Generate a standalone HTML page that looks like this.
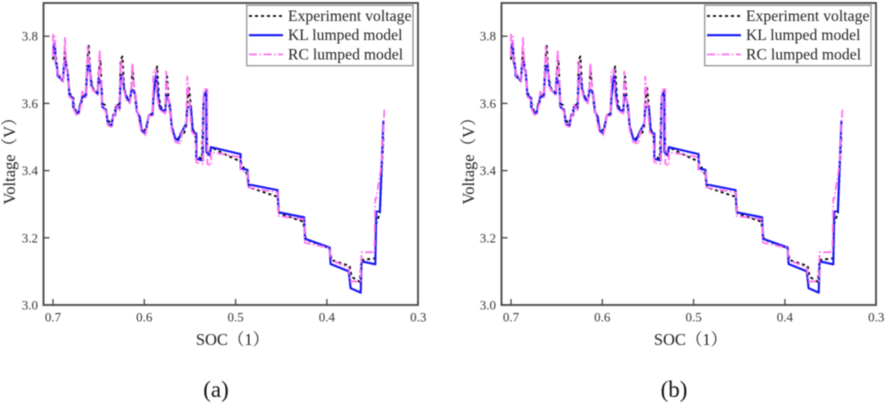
<!DOCTYPE html>
<html>
<head>
<meta charset="utf-8">
<title>Voltage vs SOC</title>
<style>
html,body{margin:0;padding:0;background:#fff;width:886px;height:404px;overflow:hidden}
svg{display:block;filter:blur(0.5px)}
text{font-family:"Liberation Serif","Noto Serif CJK SC",serif;fill:#333}
</style>
</head>
<body>
<svg id="chart" xmlns="http://www.w3.org/2000/svg" width="886" height="404" viewBox="0 0 886 404"></svg>
<script>
const socTicks = [0.7, 0.6, 0.5, 0.4, 0.3];
const socTickLabels = ['0.7', '0.6', '0.5', '0.4', '0.3'];
const voltageTicks = [3.0, 3.2, 3.4, 3.6, 3.8];
const voltageTickLabels = ['3.0', '3.2', '3.4', '3.6', '3.8'];
const panelNames = ['a', 'b'];

const klSoc = [.700,.699,.698,.697,.695,.695,.689,.688,.686,.685,.684,.682,.678,.678,.674,.672,.670,.669,.668,.664,.663,.662,.660,.658,.656,.651,.650,.647,.646,.642,.640,.636,.634,.632,.631,.627,.626,.624,.622,.620,.616,.614,.612,.610,.608,.605,.603,.599,.597,.595,.591,.590,.587,.585,.583,.577,.576,.574,.572,.570,.566,.563,.559,.554,.553,.549,.547,.543,.543,.536,.535,.532,.532,.528,.527,.4945,.4945,.487,.486,.454,.453,.425,.424,.397,.396,.376,.374,.363,.362,.347,.346,.342,.340,.338];
const klVoltage = [3.75,3.775,3.78,3.725,3.70,3.682,3.667,3.72,3.725,3.70,3.695,3.625,3.615,3.59,3.57,3.57,3.60,3.60,3.62,3.62,3.68,3.71,3.715,3.655,3.64,3.628,3.675,3.655,3.59,3.58,3.54,3.532,3.565,3.565,3.59,3.585,3.675,3.685,3.64,3.62,3.605,3.64,3.64,3.625,3.575,3.56,3.52,3.51,3.535,3.565,3.565,3.62,3.685,3.625,3.585,3.575,3.625,3.615,3.595,3.53,3.495,3.49,3.515,3.54,3.59,3.588,3.515,3.51,3.435,3.43,3.62,3.635,3.455,3.445,3.47,3.449,3.407,3.402,3.359,3.342,3.276,3.261,3.197,3.171,3.122,3.100,3.050,3.037,3.130,3.121,3.278,3.280,3.42,3.55];

const expSoc = [.700,.699,.698,.696,.695,.694,.689,.688,.687,.685,.684,.682,.678,.677,.674,.672,.670,.668,.664,.663,.661,.659,.657,.655,.651,.650,.648,.646,.643,.640,.636,.634,.631,.627,.626,.624,.622,.620,.616,.614,.613,.611,.609,.606,.603,.599,.597,.595,.591,.589,.586,.584,.582,.577,.576,.575,.573,.570,.566,.563,.560,.557,.554,.553,.551,.549,.547,.544,.543,.537,.535,.532,.531,.528,.527,.510,.4945,.488,.485,.454,.452,.426,.423,.397,.395,.375,.373,.364,.362,.347,.346,.342,.340,.338];
const expVoltage = [3.73,3.76,3.77,3.72,3.69,3.685,3.665,3.715,3.76,3.705,3.695,3.63,3.62,3.595,3.57,3.575,3.60,3.62,3.625,3.70,3.775,3.69,3.65,3.64,3.635,3.69,3.73,3.60,3.595,3.55,3.54,3.565,3.59,3.60,3.73,3.74,3.645,3.625,3.605,3.65,3.71,3.64,3.59,3.56,3.525,3.52,3.54,3.565,3.57,3.65,3.71,3.62,3.59,3.575,3.66,3.68,3.60,3.535,3.495,3.495,3.51,3.505,3.535,3.60,3.65,3.59,3.525,3.505,3.445,3.435,3.62,3.64,3.46,3.445,3.47,3.446,3.427,3.392,3.35,3.322,3.273,3.248,3.195,3.169,3.134,3.116,3.084,3.069,3.134,3.139,3.243,3.273,3.40,3.50];

const rcSoc = [.700,.700,.698,.697,.695,.694,.689,.688,.687,.685,.684,.682,.678,.677,.674,.672,.670,.669,.668,.664,.663,.662,.660,.658,.656,.651,.650,.649,.647,.646,.642,.640,.636,.634,.632,.631,.627,.626,.624,.623,.620,.616,.614,.613,.611,.609,.606,.603,.599,.597,.595,.591,.590,.587,.586,.583,.577,.576,.574,.572,.570,.566,.560,.559,.554,.553,.550,.548,.544,.543,.536,.535,.531,.531,.527,.527,.4945,.4945,.487,.486,.454,.453,.425,.424,.397,.396,.376,.374,.363,.362,.348,.347,.346,.340,.337];
const rcVoltage = [3.74,3.805,3.805,3.73,3.70,3.68,3.665,3.72,3.795,3.70,3.69,3.62,3.61,3.58,3.565,3.565,3.59,3.60,3.635,3.62,3.69,3.77,3.72,3.65,3.64,3.625,3.68,3.76,3.66,3.59,3.575,3.535,3.53,3.56,3.57,3.595,3.58,3.73,3.70,3.65,3.61,3.60,3.65,3.72,3.64,3.60,3.55,3.515,3.505,3.53,3.565,3.56,3.70,3.70,3.62,3.58,3.57,3.695,3.62,3.59,3.52,3.485,3.48,3.51,3.535,3.68,3.59,3.515,3.505,3.425,3.42,3.642,3.642,3.42,3.415,3.455,3.44,3.40,3.395,3.35,3.335,3.265,3.255,3.185,3.17,3.135,3.11,3.07,3.07,3.157,3.157,3.317,3.317,3.42,3.585];

const legendLabels = ['Experiment voltage', 'KL lumped model', 'RC lumped model'];

const NS = 'http://www.w3.org/2000/svg';
const root = document.getElementById('chart');
const BLUE = '#1414f5', PINK = '#ff70f0', BLACK = '#000';

function make(parent, tag, attrs, txt) {
  const el = document.createElementNS(NS, tag);
  for (const k in attrs) el.setAttribute(k, attrs[k]);
  if (txt !== undefined) el.textContent = txt;
  parent.appendChild(el);
  return el;
}

function drawPanel(dx, name) {
  const left = 43.5 + dx, right = 418 + dx, top = 3, bottom = 305;
  const xScale = s => 53 + dx + (0.7 - s) * 913;
  const yScale = v => 305 - (v - 3) * 336;

  const g = make(root, 'g', {});
  
  

  const stylesBySeries = [
    ['experiment-voltage-line', expSoc, expVoltage, BLACK, 1.8, '3 3'],
    ['kl-lumped-model-line', klSoc, klVoltage, BLUE, 2.1, ''],
    ['rc-lumped-model-line', rcSoc, rcVoltage, PINK, 1.8, '8 2.5 1.5 2.5']
  ];
  stylesBySeries.forEach(s => {
    const pts = s[1].map((x, j) => xScale(x).toFixed(1) + ',' + yScale(s[2][j]).toFixed(1)).join(' ');
    const line = make(g, 'polyline', {points: pts, fill: 'none', stroke: s[3], 'stroke-width': s[4], 'stroke-linejoin': 'round'});
    if (s[5]) line.setAttribute('stroke-dasharray', s[5]);
    
    
  });

  const frame = make(g, 'rect', {x: left, y: top, width: right - left, height: bottom - top, fill: 'none', stroke: '#444', 'stroke-width': 1.8});
  
  

  socTicks.forEach((t, i) => {
    const x = xScale(t);
    if (i < socTicks.length - 1) {
      const tick = make(g, 'line', {x1: x, x2: x, y1: bottom, y2: bottom - 6, stroke: '#444', 'stroke-width': 1.3});
      
      
    }
    const label = make(g, 'text', {x: x, y: 321.5, 'text-anchor': 'middle', 'font-size': 13}, socTickLabels[i]);
    
    
  });

  voltageTicks.forEach((t, i) => {
    const y = yScale(t);
    if (i > 0) {
      const tick = make(g, 'line', {x1: left, x2: left + 6, y1: y, y2: y, stroke: '#444', 'stroke-width': 1.3});
      
      
    }
    const label = make(g, 'text', {x: left - 5.5, y: y + 4.5, 'text-anchor': 'end', 'font-size': 13}, voltageTickLabels[i]);
    
    
  });

  const xTitle = make(g, 'text', {x: 232.5 + dx, y: 345, 'text-anchor': 'middle', 'font-size': 16.5, style: 'fill:#222'}, 'SOC（1）');
  
  

  const yTitle = make(g, 'text', {x: 0, y: 0, 'text-anchor': 'middle', 'font-size': 16.5, style: 'fill:#222', transform: 'translate(' + (15 + dx * 1.002) + ' 157) rotate(-90)'}, 'Voltage（V）');
  
  

  const caption = make(g, 'text', {x: 216 + dx, y: 397, 'text-anchor': 'middle', 'font-size': 23, style: 'fill:#111'}, '(' + name + ')');
  
  

  const legend = make(g, 'g', {});
  
  
  const box = make(legend, 'rect', {x: 246.7 + dx, y: 5.2, width: 166.3, height: 60.5, fill: '#fff', stroke: '#999', 'stroke-width': 1.4});
  
  
  const legendStyles = [[BLACK, 1.8, '3 3'], [BLUE, 2.1, ''], [PINK, 1.8, '8 2.5 1.5 2.5']];
  legendLabels.forEach((lab, i) => {
    const y = 16 + i * 19.2;
    const st = legendStyles[i];
    const swatch = make(legend, 'line', {x1: 249 + dx, x2: 283 + dx, y1: y, y2: y, stroke: st[0], 'stroke-width': st[1]});
    if (st[2]) swatch.setAttribute('stroke-dasharray', st[2]);
    
    
    const t = make(legend, 'text', {x: 288 + dx, y: y + 5, 'font-size': 15.6, 'letter-spacing': 0.05, style: 'fill:#222'}, lab);
    
    
  });
}

panelNames.forEach((n, i) => drawPanel(i * 458, n));
</script>
</body>
</html>
